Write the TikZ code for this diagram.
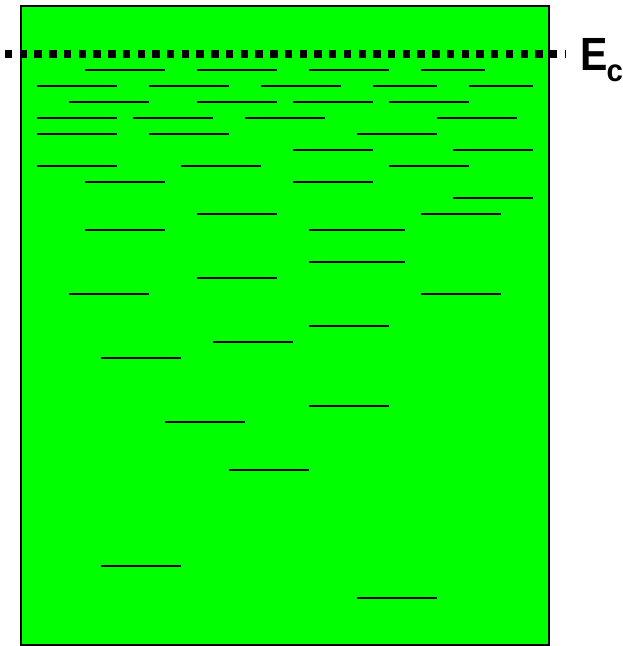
\documentclass[tikz,border=0pt]{standalone}
\usepackage{fontspec}
\setmainfont{Liberation Sans}
\begin{document}
\begin{tikzpicture}[x=1pt,y=-1pt,
  level/.style={line width=1.7pt, line cap=butt},
  band/.style={fill={rgb,255:red,0;green,255;blue,0}, draw=black, line width=2pt},
  edge/.style={line width=7.4pt, dash pattern=on 7.4pt off 7.33pt, line cap=butt}]
\useasboundingbox (0,0) rectangle (623,646);
\draw[band] (21,6) rectangle (549,645);
\foreach \y/\a/\b in {
  70/85/165, 70/197/277, 70/309/389, 70/421/485,
  86/37/117, 86/149/229, 86/261/341, 86/373/437, 86/469/533,
  102/69/149, 102/197/277, 102/293/373, 102/389/469,
  118/37/117, 118/133/213, 118/245/325, 118/437/517,
  134/37/117, 134/149/229, 134/357/437,
  150/293/373, 150/453/533,
  166/37/117, 166/181/261, 166/389/469,
  182/85/165, 182/293/373,
  198/453/533,
  214/197/277, 214/421/501,
  230/85/165, 230/309/405,
  262/309/405,
  278/197/277,
  294/69/149, 294/421/501,
  326/309/389,
  342/213/293,
  358/101/181,
  406/309/389,
  422/165/245,
  470/229/309,
  566/101/181,
  598/357/437}
  \draw[level] (\a,\y-0.3) -- (\b,\y-0.3);
\coordinate (ecl) at (5,54);
\coordinate (ecr) at (565,54);
\draw[edge] (ecl) -- (ecr);
\node[anchor=base west, inner sep=0pt, xscale=0.88, font=\fontsize{46.6}{50}\selectfont\bfseries] (E) at (580,70.7) {E};
\node[anchor=base west, inner sep=0pt, xscale=0.95, font=\fontsize{31}{34}\selectfont\bfseries] (c) at (606.5,81.8) {c};
\end{tikzpicture}
\end{document}
